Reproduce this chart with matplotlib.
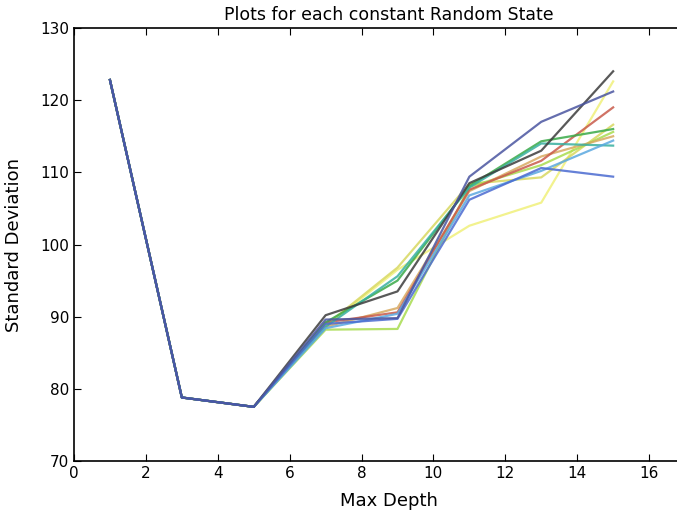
import matplotlib
matplotlib.use("Agg")
import matplotlib.pyplot as plt

depths = [1, 3, 5, 7, 9, 11, 13, 15]
common = [122.8, 78.8, 77.5]

# values at depth 7, 9, 11, 13, 15 for each random state
series = {
    "light yellow": [88.6, 96.5, 102.6, 105.8, 122.6],
    "khaki": [88.8, 96.8, 108.4, 109.3, 116.6],
    "lime": [88.2, 88.3, 108.0, 111.0, 115.6],
    "orange": [88.6, 91.2, 107.4, 112.2, 115.0],
    "red": [89.2, 90.6, 107.6, 111.6, 119.0],
    "green": [89.2, 95.0, 108.1, 114.3, 116.0],
    "teal": [88.6, 95.6, 107.9, 114.0, 113.7],
    "sky": [88.4, 90.4, 106.8, 110.2, 114.4],
    "dark grey": [90.2, 93.5, 108.5, 113.0, 124.0],
    "blue": [89.0, 89.7, 106.2, 110.6, 109.4],
    "slate blue": [89.6, 89.8, 109.4, 117.0, 121.2],
}
colors = ["#f0f07a", "#d8d860", "#a8dc50", "#d8aa60", "#c85a4a", "#3aaa48",
          "#38b0a0", "#5aa8e0", "#3c3c3c", "#4a6ad0", "#4a55a0"]

fig = plt.figure(figsize=(6.77, 5.16), dpi=100)
ax = fig.add_axes([74 / 677, 55 / 516, 629 / 677, 433 / 516])

for (name, vals), c in zip(series.items(), colors):
    ax.plot(depths, common + vals, color=c, lw=1.6, alpha=0.85)

ax.set_xlim(0, 17.5)
ax.set_ylim(70, 130)
ax.set_xticks(range(0, 17, 2))
ax.set_yticks(range(70, 131, 10))
ax.tick_params(direction="in", top=True, right=True, labelsize=11, length=5)
for s in ax.spines.values():
    s.set_linewidth(1.2)
ax.set_title("Plots for each constant Random State", fontsize=12.5, pad=6)
ax.set_xlabel("Max Depth", fontsize=13, labelpad=8)
ax.set_ylabel("Standard Deviation", fontsize=13, labelpad=12)
fig.savefig("out.png", dpi=100)
